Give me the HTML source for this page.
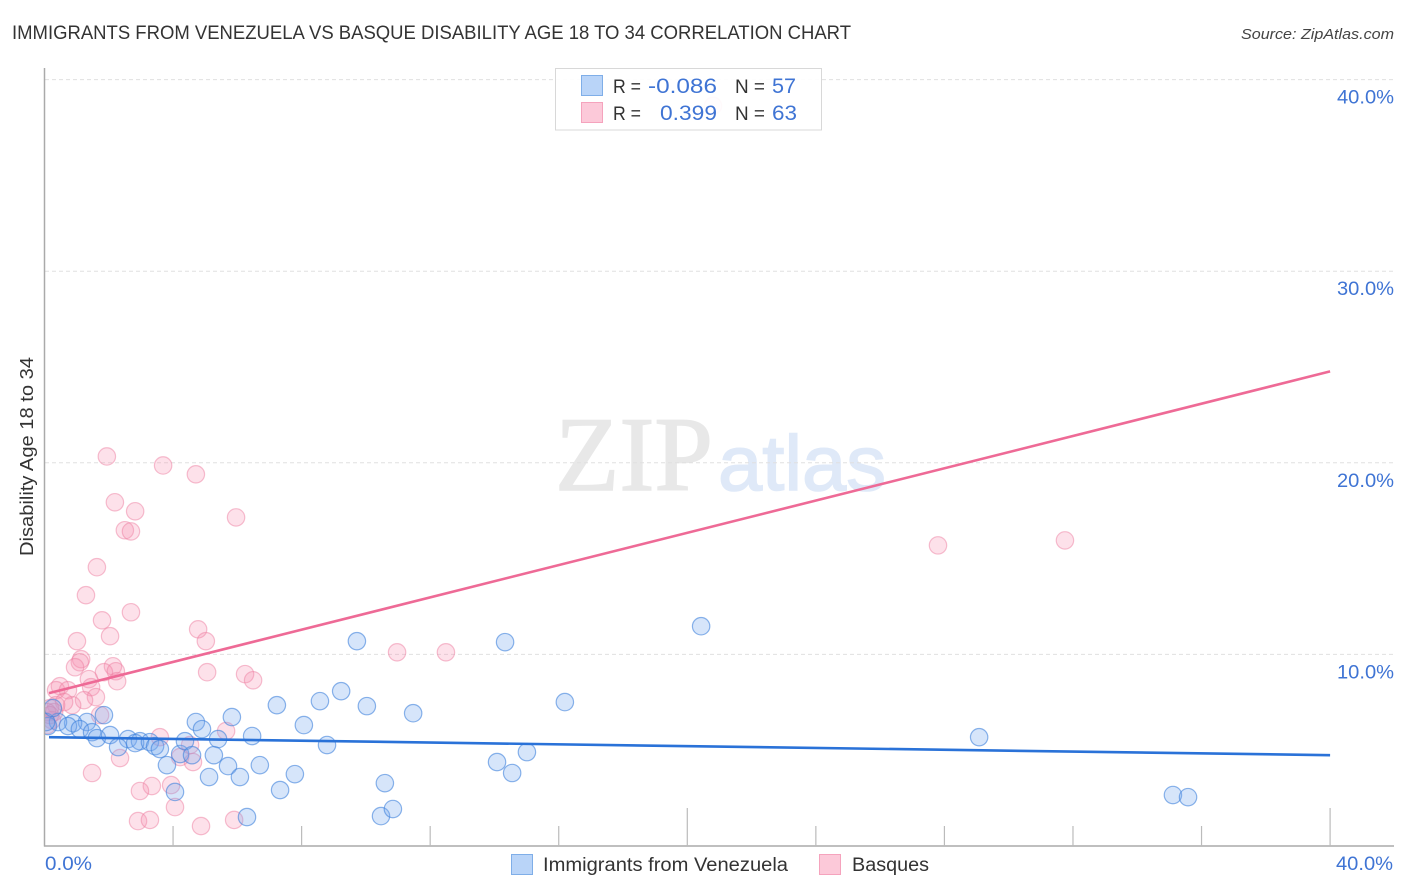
<!DOCTYPE html>
<html lang="en">
<head>
<meta charset="utf-8">
<title>Immigrants from Venezuela vs Basque Disability Age 18 to 34 Correlation Chart</title>
<style>
html,body{margin:0;padding:0;background:#fff;width:1406px;height:892px;overflow:hidden}
svg{display:block;font-family:"Liberation Sans",sans-serif}
</style>
</head>
<body>
<svg id="chart" width="1406" height="892" viewBox="0 0 1406 892" xmlns="http://www.w3.org/2000/svg">
  <defs>
    <clipPath id="plot-clip"><rect x="45" y="60" width="1349" height="786"/></clipPath>
  </defs>
  <text x="12" y="39" font-size="19" fill="#333" textLength="839" lengthAdjust="spacingAndGlyphs">IMMIGRANTS FROM VENEZUELA VS BASQUE DISABILITY AGE 18 TO 34 CORRELATION CHART</text>
  <text x="1241" y="39" font-size="15" font-style="italic" fill="#444" textLength="153" lengthAdjust="spacingAndGlyphs">Source: ZipAtlas.com</text>
  <g>
    <text x="555" y="490" font-family="'Liberation Serif',serif" font-size="106" fill="#e8e8e8" stroke="#e8e8e8" stroke-width="1.5" textLength="158" lengthAdjust="spacingAndGlyphs">ZIP</text>
    <text x="718" y="490" font-size="78" fill="#dfe9f8" stroke="#dfe9f8" stroke-width="1.5" textLength="168" lengthAdjust="spacingAndGlyphs">atlas</text>
  </g>
  <g id="grid"></g>
  <g id="points" clip-path="url(#plot-clip)"></g>
  <g id="trends"></g>
  <g id="axes"></g>
  <text transform="translate(33,556) rotate(-90)" font-size="18" fill="#333" textLength="199" lengthAdjust="spacingAndGlyphs">Disability Age 18 to 34</text>

  <g>
    <rect x="555.5" y="68.5" width="266" height="61.5" fill="#fff" fill-opacity="0.92" stroke="#d8d8d8" stroke-width="1"/>
    <rect x="581.5" y="75.5" width="21" height="20" fill="#b9d4f8" stroke="#7faee8"/>
    <rect x="581.5" y="102.5" width="21" height="20" fill="#fcc9d9" stroke="#f5a3bd"/>
    <text x="613" y="93" font-size="19" fill="#333" textLength="28" lengthAdjust="spacingAndGlyphs">R =</text>
    <text x="648" y="93" font-size="21" fill="#3f74d4" textLength="69" lengthAdjust="spacingAndGlyphs">-0.086</text>
    <text x="735" y="93" font-size="19" fill="#333" textLength="30" lengthAdjust="spacingAndGlyphs">N =</text>
    <text x="772" y="93" font-size="21" fill="#3f74d4" textLength="24" lengthAdjust="spacingAndGlyphs">57</text>
    <text x="613" y="120" font-size="19" fill="#333" textLength="28" lengthAdjust="spacingAndGlyphs">R =</text>
    <text x="660" y="120" font-size="21" fill="#3f74d4" textLength="57" lengthAdjust="spacingAndGlyphs">0.399</text>
    <text x="735" y="120" font-size="19" fill="#333" textLength="30" lengthAdjust="spacingAndGlyphs">N =</text>
    <text x="772" y="120" font-size="21" fill="#3f74d4" textLength="25" lengthAdjust="spacingAndGlyphs">63</text>
  </g>

  <g>
    <rect x="511.5" y="854.5" width="21" height="20" fill="#b9d4f8" stroke="#7faee8"/>
    <text x="543" y="871" font-size="19" fill="#333" textLength="245" lengthAdjust="spacingAndGlyphs">Immigrants from Venezuela</text>
    <rect x="819.5" y="854.5" width="21" height="20" fill="#fcc9d9" stroke="#f5a3bd"/>
    <text x="852" y="871" font-size="19" fill="#333" textLength="77" lengthAdjust="spacingAndGlyphs">Basques</text>
  </g>
</svg>
<script>
const venezuelaX = [9.72,14.33,20.43,16.19,11.47,10.03,9.23,8.57,7.23,8.07,8.79,5.83,4.71,4.90,1.85,1.32,0.89,0.42,0.11,0.05,0.26,0.73,1.10,1.48,1.63,2.04,2.60,2.97,2.82,2.29,3.28,3.44,3.59,3.81,4.22,4.37,4.59,5.40,5.27,6.46,5.71,6.70,7.79,5.12,6.08,7.33,4.06,6.30,10.59,10.47,10.84,14.08,14.55,15.01,29.08,35.11,35.58];
const venezuelaY = [10.69,10.64,11.47,7.51,6.93,7.30,8.08,7.56,7.35,6.31,5.27,6.73,6.47,6.10,6.83,6.47,6.41,6.47,6.26,6.47,7.20,6.26,6.10,5.94,5.63,5.79,5.58,5.47,5.37,5.16,5.42,5.21,5.06,4.22,4.80,5.47,4.74,5.58,4.74,5.74,4.17,4.22,3.75,3.60,3.60,2.92,2.82,1.51,3.28,1.56,1.93,4.38,3.81,4.90,5.68,2.66,2.55];
const basquesX = [20.80,1.94,3.69,4.71,5.96,2.19,2.82,2.50,2.69,1.63,1.29,2.69,1.79,2.04,1.01,4.78,5.02,1.14,1.10,0.95,2.13,1.85,2.22,2.26,1.38,1.45,5.06,6.24,6.49,10.97,12.49,27.80,31.75,0.48,0.36,0.73,1.60,1.23,0.86,0.61,1.73,0.36,0.17,0.30,0.08,0.23,0.08,0.17,5.65,3.59,4.53,4.62,4.22,2.35,1.48,3.34,3.94,2.97,4.06,2.91,3.28,4.87,5.90];
const basquesY = [38.63,20.33,19.86,19.40,17.15,17.94,17.47,16.48,16.42,14.55,13.09,12.20,11.78,10.95,10.69,11.31,10.69,9.75,9.59,9.33,9.38,9.07,9.12,8.60,8.71,8.29,9.07,8.97,8.65,10.11,10.11,15.69,15.95,8.34,8.13,8.13,7.77,7.61,7.35,7.51,6.83,7.35,7.20,6.99,6.99,6.57,6.31,6.83,6.00,5.68,5.27,4.38,4.64,4.59,3.81,3.13,3.18,2.87,2.03,1.30,1.36,1.04,1.36];
const trendX = [0.14, 40];
const venezuelaTrendY = [5.68, 4.74];
const basquesTrendY = [7.98, 24.77];
const yTickValues = [10, 20, 30, 40];
const yTickLabels = ["10.0%", "20.0%", "30.0%", "40.0%"];
const xTickValues = [4, 8, 12, 16, 20, 24, 28, 32, 36, 40];
const xMajorTicks = [20, 40];
const xEndLabels = ["0.0%", "40.0%"];

const NS = "http://www.w3.org/2000/svg";
const xScale = v => 44.5 + v * 32.14;
const yScale = v => 846 - v * 19.16;
function make(tag, parent, attrs, text) {
  const el = document.createElementNS(NS, tag);
  for (const k in attrs) el.setAttribute(k, attrs[k]);
  if (text !== undefined) el.textContent = text;
  parent.appendChild(el);
  return el;
}
const gridG = document.getElementById("grid");
const axesG = document.getElementById("axes");
const pointsG = document.getElementById("points");
const trendsG = document.getElementById("trends");

yTickValues.forEach(function (v, i) {
  const line = make("line", gridG, {x1: 45, x2: 1394, y1: yScale(v), y2: yScale(v), stroke: "#e0e0e0", "stroke-width": 1, "stroke-dasharray": "4 3"});
  
  
  const label = make("text", axesG, {x: 1394, y: yScale(v) + 24, "font-size": 19, fill: "#3f74d4", "text-anchor": "end", textLength: 57, lengthAdjust: "spacingAndGlyphs"}, yTickLabels[i]);
  
  
});

const yAxis = make("line", axesG, {x1: 44.5, x2: 44.5, y1: 68, y2: 846.5, stroke: "#aaaaaa", "stroke-width": 1.5});


const xAxis = make("line", axesG, {x1: 44, x2: 1394, y1: 846, y2: 846, stroke: "#aaaaaa", "stroke-width": 1.5});



xTickValues.forEach(function (v) {
  const top = xMajorTicks.includes(v) ? 808 : 826;
  const tick = make("line", axesG, {x1: xScale(v), x2: xScale(v), y1: top, y2: 846, stroke: "#bbbbbb", "stroke-width": 1.2});
  
  
});

const xLabelStart = make("text", axesG, {x: 45, y: 870, "font-size": 19, fill: "#3f74d4", textLength: 47, lengthAdjust: "spacingAndGlyphs"}, xEndLabels[0]);


const xLabelEnd = make("text", axesG, {x: 1336, y: 870, "font-size": 19, fill: "#3f74d4", textLength: 57, lengthAdjust: "spacingAndGlyphs"}, xEndLabels[1]);



basquesX.forEach(function (v, i) {
  const c = make("circle", pointsG, {cx: xScale(v), cy: yScale(basquesY[i]), r: 8.7, fill: "#f78fb0", "fill-opacity": 0.27, stroke: "#ee7fa2", "stroke-opacity": 0.5, "stroke-width": 1.2});
  
  
});
venezuelaX.forEach(function (v, i) {
  const c = make("circle", pointsG, {cx: xScale(v), cy: yScale(venezuelaY[i]), r: 8.7, fill: "#76aaf0", "fill-opacity": 0.3, stroke: "#3f82dc", "stroke-opacity": 0.6, "stroke-width": 1.2});
  
  
});

const trendBasques = make("line", trendsG, {x1: xScale(trendX[0]), x2: xScale(trendX[1]), y1: yScale(basquesTrendY[0]), y2: yScale(basquesTrendY[1]), stroke: "#ee6a96", "stroke-width": 2.6});


const trendVenezuela = make("line", trendsG, {x1: xScale(trendX[0]), x2: xScale(trendX[1]), y1: yScale(venezuelaTrendY[0]), y2: yScale(venezuelaTrendY[1]), stroke: "#2a72d8", "stroke-width": 2.6});


</script>
</body>
</html>
